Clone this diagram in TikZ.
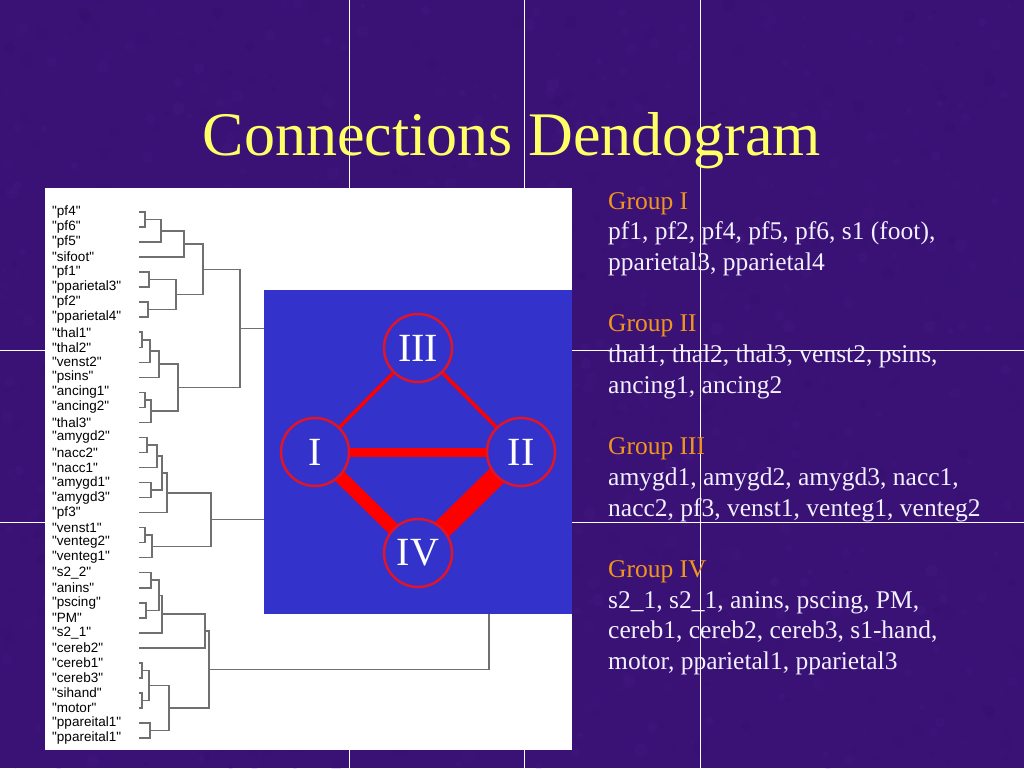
\documentclass[tikz,border=0pt]{standalone}
\usepackage{fontspec}
\setmainfont{Liberation Serif}
\newfontfamily\labfont{Liberation Sans}
\usetikzlibrary{calc}
\definecolor{bgpurple}{RGB}{58,18,118}
\definecolor{bgdark}{RGB}{40,8,90}
\definecolor{bglight}{RGB}{90,36,150}
\definecolor{titleyellow}{RGB}{255,255,102}
\definecolor{grouporange}{RGB}{240,150,30}
\definecolor{textwhite}{RGB}{242,240,255}
\definecolor{boxblue}{RGB}{51,51,204}
\definecolor{edgered}{RGB}{255,0,0}
\definecolor{ringred}{RGB}{225,20,40}
\definecolor{treegray}{RGB}{112,112,112}
\pgfdeclarelayer{bg}
\pgfdeclarelayer{edges}
\pgfsetlayers{bg,edges,main}
\newcommand\djoin[4]{%
  \draw[tree] let \p1=(#1), \p2=(#2) in (\p1) -- (#3pt,\y1) -- (#3pt,\y2) -- (\p2);
  \path let \p1=(#1), \p2=(#2) in (#3pt,{0.5*\y1+0.5*\y2}) coordinate (#4);}
\tikzset{
  tree/.style={draw=treegray, line width=1.5pt, line join=miter},
  lab/.style={anchor=west, inner sep=0pt, font=\labfont\fontsize{13.5}{14}\selectfont, text=black},
  grp/.style={anchor=base west, inner sep=0pt, font=\fontsize{25.5}{30}\selectfont, text=grouporange},
  members/.style={anchor=base west, inner sep=0pt, font=\fontsize{25.5}{30}\selectfont, text=textwhite},
  ring/.style={circle, minimum size=68pt, inner sep=0pt, draw=ringred, line width=2.5pt, fill=boxblue,
    text=white, font=\fontsize{40}{40}\selectfont},
  conn/.style={draw=edgered, line cap=butt},
  gridline/.style={draw=white, line width=1pt}
}
\begin{document}
\begin{tikzpicture}[x=1pt,y=-1pt]
\useasboundingbox (0,0) rectangle (1024,768);
\begin{pgfonlayer}{bg}
  \fill[bgpurple] (0,0) rectangle (1024,768);
  % subtle mottled texture
  \pgfmathsetseed{42}
  \foreach \k in {1,...,1200} {
    \pgfmathsetmacro\rx{rnd*1024}
    \pgfmathsetmacro\ry{rnd*768}
    \pgfmathsetmacro\rr{1.5+rnd*5}
    \pgfmathsetmacro\rc{rnd*100}
    \fill[bglight!\rc!bgdark, opacity=0.14] (\rx,\ry) circle (\rr);
  }
  \draw[gridline] (349,0) -- (349,768);
  \draw[gridline] (524,0) -- (524,768);
  \draw[gridline] (700,0) -- (700,768);
  \draw[gridline] (0,350) -- (1024,350);
  \draw[gridline] (0,522) -- (1024,522);
  \fill[white] (45,188) rectangle (572,750);
  % leaf labels
  \foreach \t [count=\i] in {"pf4","pf6","pf5","sifoot","pf1","pparietal3","pf2","pparietal4",
     "thal1","thal2","venst2","psins","ancing1","ancing2","thal3",
     "amygd2","nacc2","nacc1","amygd1","amygd3","pf3","venst1","venteg2","venteg1",
     "s2\_2","anins","pscing","PM","s2\_1","cereb2","cereb1","cereb3","sihand","motor",
     "ppareital1","ppareital1"} {
    \node[lab] (n\i) at (52,{212+15.03*(\i-1)}) {\t};
    \coordinate (l\i) at (139,{212+15.03*(\i-1)});
  }
  % Group I
  \djoin{l1}{l2}{145}{a1}
  \djoin{a1}{l3}{161}{a2}
  \djoin{a2}{l4}{184}{a3}
  \djoin{l5}{l6}{149}{a4}
  \djoin{l7}{l8}{148}{a5}
  \djoin{a4}{a5}{176}{a6}
  \djoin{a3}{a6}{203}{g1}
  % Group II
  \djoin{l9}{l10}{142}{b1}
  \djoin{b1}{l11}{150}{b2}
  \djoin{b2}{l12}{159}{b3}
  \djoin{l13}{l14}{145}{b4}
  \djoin{b4}{l15}{151}{b5}
  \djoin{b3}{b5}{178}{g2}
  \djoin{g1}{g2}{240}{g12}
  \draw[tree] (g12) -- ++(60,0);
  % Group III
  \djoin{l16}{l17}{147}{c1}
  \djoin{c1}{l18}{157}{c2}
  \djoin{l19}{l20}{151}{c3}
  \djoin{c2}{c3}{162}{c4}
  \djoin{c4}{l21}{167}{c5}
  \djoin{l22}{l23}{145}{c6}
  \djoin{c6}{l24}{152}{c7}
  \djoin{c5}{c7}{211}{g3}
  \draw[tree] (g3) -- ++(90,0);
  % Group IV
  \djoin{l25}{l26}{151}{d1}
  \djoin{l27}{l28}{146}{d2}
  \djoin{d1}{d2}{159}{d3}
  \djoin{d3}{l29}{162}{d4}
  \djoin{d4}{l30}{205}{d5}
  \djoin{l31}{l32}{142}{d6}
  \djoin{l33}{l34}{142}{d7}
  \djoin{d6}{d7}{149}{d8}
  \djoin{l35}{l36}{150}{d9}
  \djoin{d8}{d9}{169}{d10}
  \djoin{d5}{d10}{209}{g4}
  \coordinate (g4up) at (489,590);
  \draw[tree] (g4) -| (g4up);
  % blue box
  \fill[boxblue] (264,290) rectangle (572,614);
\end{pgfonlayer}
% title
\node[anchor=base, inner sep=0pt, text=titleyellow, font=\fontsize{62}{70}\selectfont] (title) at (512,155) {Connections Dendogram};
% group circles
\node[ring] (III) at (418,348) {III};
\node[ring] (I) at (315,452) {I};
\node[ring] (II) at (521,452) {II};
\node[ring] (IV) at (418,553) {IV};
\begin{pgfonlayer}{edges}
  \draw[conn, line width=3.5pt] (III.center) -- (I.center);
  \draw[conn, line width=3.5pt] (III.center) -- (II.center);
  \draw[conn, line width=9pt] (I.center) -- (II.center);
  \draw[conn, line width=13pt] (I.center) -- (IV.center);
  \draw[conn, line width=20pt] (II.center) -- (IV.center);
\end{pgfonlayer}
% group texts
\node[grp] (t0) at (608,209) {Group I};
\node[members] (t1) at (608,{209+30.7*1}) {pf1, pf2, pf4, pf5, pf6, s1 (foot),};
\node[members] (t2) at (608,{209+30.7*2}) {pparietal3, pparietal4};
\node[grp] (t4) at (608,{209+30.7*4}) {Group II};
\node[members] (t5) at (608,{209+30.7*5}) {thal1, thal2, thal3, venst2, psins,};
\node[members] (t6) at (608,{209+30.7*6}) {ancing1, ancing2};
\node[grp] (t8) at (608,{209+30.7*8}) {Group III};
\node[members] (t9) at (608,{209+30.7*9}) {amygd1, amygd2, amygd3, nacc1,};
\node[members] (t10) at (608,{209+30.7*10}) {nacc2, pf3, venst1, venteg1, venteg2};
\node[grp] (t12) at (608,{209+30.7*12}) {Group IV};
\node[members] (t13) at (608,{209+30.7*13}) {s2\_1, s2\_1, anins, pscing, PM,};
\node[members] (t14) at (608,{209+30.7*14}) {cereb1, cereb2, cereb3, s1-hand,};
\node[members] (t15) at (608,{209+30.7*15}) {motor, pparietal1, pparietal3};
\end{tikzpicture}
\end{document}
